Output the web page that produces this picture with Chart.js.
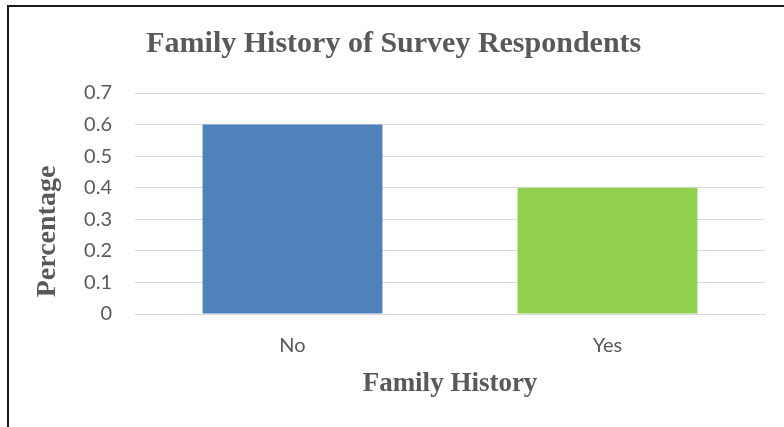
<!DOCTYPE html>
<html>
<head>
<meta charset="utf-8">
<script src="https://cdn.jsdelivr.net/npm/chart.js@4"></script>
<style>
  html, body { margin: 0; padding: 0; background: #fff; overflow: hidden; }
  #wrap { position: relative; width: 784px; height: 427px; }
  #frame { position: absolute; left: 7px; top: 5px; width: 800px; height: 450px;
           border-left: 2px solid #1a1a1a; border-top: 2px solid #1a1a1a; }
  #myChart { position: absolute; left: 0; top: 0; }
</style>
</head>
<body>
<div id="wrap">
  <div id="frame"></div>
  <canvas id="myChart" width="784" height="427"></canvas>
</div>
<script>
// data
let categories = ["No", "Yes"];
let percentages = [0.6, 0.4];
let barColors = ["#4F81BD", "#92D050"];
let yTicks = [0, 0.1, 0.2, 0.3, 0.4, 0.5, 0.6, 0.7];

let grey = "#595959";
let serif = "'Liberation Serif', 'Times New Roman', serif";
let sans = "Lato, 'Open Sans', sans-serif";

let ctx = document.getElementById("myChart").getContext("2d");
var chart = new Chart(ctx,
{
    type: "bar",
    data: {
        labels: categories,
        datasets: [
            {
                data: percentages,
                backgroundColor: barColors,
                borderWidth: 0,
                categoryPercentage: 1,
                barPercentage: 0.571
            }
        ]
    },
    options: {
        responsive: false,
        animation: false,
        layout: { padding: { left: 0, right: 19, top: 0, bottom: 0 } },
        plugins: {
            legend: { display: false },
            tooltip: { enabled: false },
            title: {
                display: true,
                // leading spaces nudge the centred title right a little, like the original
                text: "   Family History of Survey Respondents",
                color: grey,
                font: { family: serif, size: 30, weight: "bold" },
                padding: { top: 26, bottom: 31 }
            }
        },
        scales: {
            x: {
                grid: { display: false, drawTicks: false },
                border: { display: true, color: "#D9D9D9", width: 1 },
                ticks: {
                    color: grey,
                    padding: 20,
                    font: { family: sans, size: 20 }
                },
                title: {
                    display: true,
                    text: "Family History",
                    color: grey,
                    font: { family: serif, size: 27, weight: "bold" },
                    padding: { top: 4, bottom: 27 }
                },
                afterFit: function (scale) { scale.height = 113; }
            },
            y: {
                min: 0,
                max: 0.7,
                afterBuildTicks: function (scale) {
                    scale.ticks = yTicks.map(v => ({ value: v }));
                },
                grid: { color: "#D9D9D9", lineWidth: 1, drawTicks: false },
                border: { display: false },
                ticks: {
                    color: grey,
                    padding: 23,
                    font: { family: sans, size: 20 }
                },
                title: {
                    display: true,
                    // trailing spaces push the rotated title down like in the original
                    text: "Percentage        ",
                    color: grey,
                    font: { family: serif, size: 28, weight: "bold" },
                    padding: { top: 31, bottom: 0 }
                },
                afterFit: function (scale) { scale.width = 135; }
            }
        }
    }
});
</script>
</body>
</html>
